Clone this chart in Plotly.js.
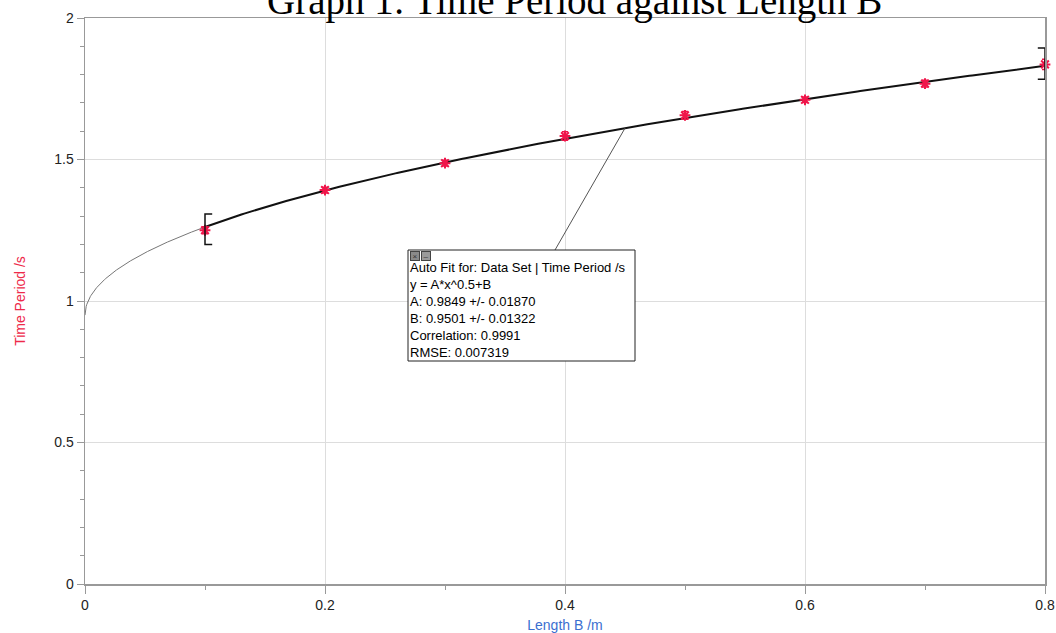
<!DOCTYPE html>
<html>
<head>
<meta charset="utf-8">
<script src="https://cdn.plot.ly/plotly-3.0.1.min.js"></script>
<style>html,body{margin:0;padding:0;background:#fff;}#chart{width:1056px;height:633px;}</style>
</head>
<body>
<div id="chart"></div>
<script>
// Data
const lengthB = [0.1, 0.2, 0.3, 0.4, 0.5, 0.6, 0.7, 0.8];
const timePeriod = [1.250, 1.392, 1.487, 1.583, 1.656, 1.711, 1.768, 1.836];
const timeErr = [0.012, 0.010, 0.010, 0.015, 0.014, 0.010, 0.012, 0.018];
// Fit parameters shown in the fit box
const fitA = 0.9849;
const fitB = 0.9501;
const fitLines = [
  "Auto Fit for: Data Set | Time Period /s",
  "y = A*x^0.5+B",
  "A: 0.9849 +/- 0.01870",
  "B: 0.9501 +/- 0.01322",
  "Correlation: 0.9991",
  "RMSE: 0.007319"
];
const xTicks = [0, 0.2, 0.4, 0.6, 0.8];
const yTicks = [0, 0.5, 1, 1.5, 2];

function fit(x){ return fitA*Math.sqrt(x)+fitB; }
const xmin = lengthB[0], xmax = lengthB[lengthB.length-1];
const ext = {x:[], y:[]}, rng = {x:[], y:[]};
for(let i=0;i<=200;i++){ const x = xmin*i/200; ext.x.push(x); ext.y.push(fit(x)); }
for(let i=0;i<=300;i++){ const x = xmin+(xmax-xmin)*i/300; rng.x.push(x); rng.y.push(fit(x)); }

const traces = [
  {x: ext.x, y: ext.y, mode:'lines', line:{color:'#777', width:1}, hoverinfo:'skip'},
  {x: rng.x, y: rng.y, mode:'lines', line:{color:'#111', width:2}, hoverinfo:'skip'},
  {x: lengthB, y: timePeriod, mode:'markers', cliponaxis:false,
   marker:{symbol:'asterisk-open', size:9, color:'#f0154a', line:{color:'#f0154a', width:2}},
   error_y:{type:'data', array: timeErr, visible:true, color:'#f0154a', thickness:1.5, width:3}}
];

// pixel -> data helpers for the fit-box placement (plot area 85..1045 x 18..584)
const px2x = p => (p-85)/1200;
const py2y = p => 2-(p-18)/283;
const tx = 0.45;
const shapes = [
  // range brackets
  {type:'path', xref:'x', yref:'y', path:`M ${xmin+0.006} 1.307 L ${xmin} 1.307 L ${xmin} 1.200 L ${xmin+0.006} 1.200`, line:{color:'#111', width:1.5}},
  {type:'path', xref:'x', yref:'y', path:`M ${xmax-0.006} 1.894 L ${xmax} 1.894 L ${xmax} 1.784 L ${xmax-0.006} 1.784`, line:{color:'#111', width:1.5}},
  // leader line
  {type:'line', xref:'x', yref:'y', x0:px2x(555), y0:py2y(250), x1:tx, y1:fit(tx), line:{color:'#555', width:1}},
  // fit box frame
  {type:'rect', xref:'x', yref:'y', layer:'above', x0:px2x(408), x1:px2x(635), y0:py2y(250), y1:py2y(361),
   fillcolor:'#fff', line:{color:'#222', width:1}}
];

const boxFont = {family:'Arial, Liberation Sans, sans-serif', size:13, color:'#000'};
const layout = {
  width:1056, height:633,
  margin:{l:85, r:11, t:18, b:49},
  paper_bgcolor:'#fff', plot_bgcolor:'#fff',
  showlegend:false,
  font:{family:'Arial, Liberation Sans, sans-serif', size:14, color:'#222'},
  xaxis:{range:[0,0.8], tickvals:xTicks, ticktext:xTicks.map(String), ticks:'outside', ticklen:8, tickcolor:'#999',
    showline:true, linecolor:'#999', linewidth:1.5, mirror:true, showgrid:true, gridcolor:'#ddd', zeroline:false,
    minor:{dtick:0.1, ticks:'outside', ticklen:4, tickcolor:'#999', showgrid:false},
    title:{text:'Length B /m', font:{color:'#3b6fd0', size:14}, standoff:8}},
  yaxis:{range:[0,2], tickvals:yTicks, ticktext:yTicks.map(String), ticks:'outside', ticklen:7, tickcolor:'#999',
    showline:true, linecolor:'#999', linewidth:1.5, mirror:true, showgrid:true, gridcolor:'#ddd', zeroline:false,
    minor:{dtick:0.1, ticks:'outside', ticklen:4, tickcolor:'#999', showgrid:false},
    title:{text:'Time Period /s', font:{color:'#ee2a4a', size:14}, standoff:25}},
  shapes: shapes,
  annotations:[
    {xref:'paper', yref:'paper', x:0.51, y:1, xanchor:'center', yanchor:'bottom', yshift:-7, showarrow:false,
     text:'Graph 1: Time Period against Length B', font:{family:'Liberation Serif, Times New Roman, serif', size:39, color:'#000'}},
    // fit box body text
    {xref:'x', yref:'y', x:px2x(409), y:py2y(259), xanchor:'left', yanchor:'top', align:'left', showarrow:false,
     borderpad:0, text:fitLines.join('<br>'), font:boxFont},
    // header icons
    {xref:'x', yref:'y', x:px2x(410), y:py2y(251), xanchor:'left', yanchor:'top', showarrow:false,
     width:8, height:8, bgcolor:'#8a8a8a', bordercolor:'#444', borderwidth:1, borderpad:0, text:'<span style="font-size:8px;color:#333">×</span>', font:{size:8}},
    {xref:'x', yref:'y', x:px2x(421), y:py2y(251), xanchor:'left', yanchor:'top', showarrow:false,
     width:8, height:8, bgcolor:'#9a9a9a', bordercolor:'#444', borderwidth:1, borderpad:0, text:'<span style="font-size:8px;color:#333">–</span>', font:{size:8}}
  ]
};
Plotly.newPlot('chart', traces, layout, {displayModeBar:false, staticPlot:true});
</script>
</body>
</html>
